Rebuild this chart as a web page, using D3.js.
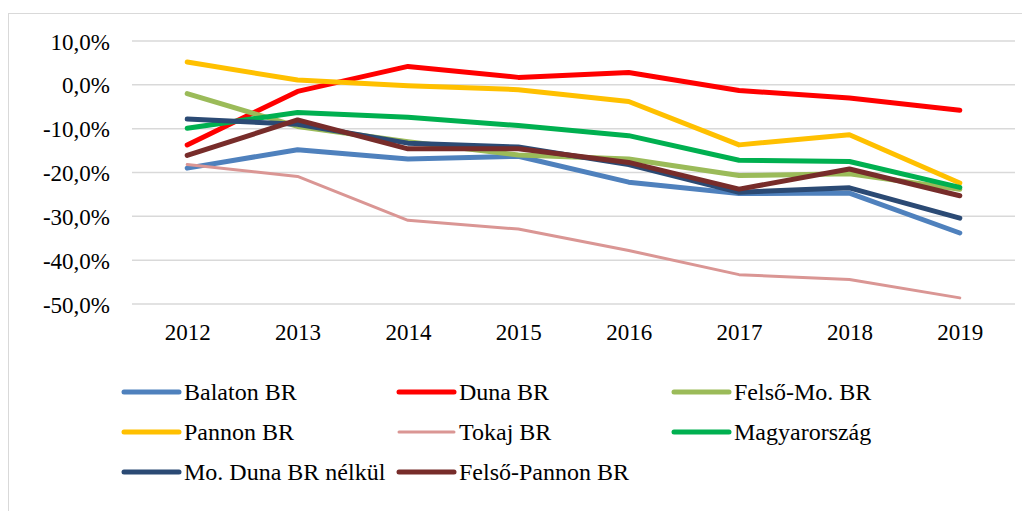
<!DOCTYPE html>
<html>
<head>
<meta charset="utf-8">
<script src="https://cdnjs.cloudflare.com/ajax/libs/d3/7.8.5/d3.min.js"></script>
<style>
  body { margin: 0; background: #fff; }
  svg text { font-family: "Liberation Serif", "Times New Roman", Times, "DejaVu Serif", serif; }
</style>
</head>
<body>
<div id="chart-area"></div>
<script>
// Data (percent)
var years = ["2012", "2013", "2014", "2015", "2016", "2017", "2018", "2019"];
var yTicks = [10, 0, -10, -20, -30, -40, -50];

var balaton     = [-19.0, -14.8, -16.9, -16.3, -22.2, -24.8, -24.7, -33.8];
var duna        = [-13.7,  -1.5,   4.2,   1.7,   2.8,  -1.3,  -3.0,  -5.8];
var felsoMo     = [ -2.0,  -9.5, -13.0, -16.0, -16.9, -20.7, -20.3, -23.8];
var pannon      = [  5.2,   1.1,  -0.2,  -1.1,  -3.8, -13.7, -11.4, -22.4];
var tokaj       = [-18.2, -20.9, -30.9, -32.9, -37.8, -43.3, -44.4, -48.6];
var magyar      = [ -9.9,  -6.3,  -7.4,  -9.3, -11.6, -17.2, -17.5, -23.4];
var moDuna      = [ -7.8,  -9.0, -13.3, -14.2, -18.2, -24.5, -23.5, -30.4];
var felsoPannon = [-16.1,  -8.0, -14.6, -14.6, -17.7, -23.8, -19.2, -25.3];

var series = [
    { name: "Balaton BR",           values: balaton,     color: "#4f81bd", w: 5 },
    { name: "Duna BR",              values: duna,        color: "#ff0000", w: 5 },
    { name: "Felső-Mo. BR",         values: felsoMo,     color: "#9bbb59", w: 5 },
    { name: "Pannon BR",            values: pannon,      color: "#ffc000", w: 5 },
    { name: "Tokaj BR",             values: tokaj,       color: "#da9694", w: 3 },
    { name: "Magyarország",         values: magyar,      color: "#00b050", w: 5 },
    { name: "Mo. Duna BR nélkül",   values: moDuna,      color: "#2b4a74", w: 5 },
    { name: "Felső-Pannon BR",      values: felsoPannon, color: "#772c2a", w: 5 }
];

var W = 1022, H = 511;
var plot = { left: 132, right: 1015, top: 41, bottom: 304 };

var svg = d3.select("#chart-area")
    .append("svg")
        .attr("width", W)
        .attr("height", H);

// outer frame
svg.append("rect")
    .attr("x", 8.5)
    .attr("y", 13.5)
    .attr("width", W + 20)
    .attr("height", H + 20)
    .attr("fill", "none")
    .attr("stroke", "#d9d9d9")
    .attr("stroke-width", 1);

// Scales
var x = d3.scalePoint()
    .domain(years)
    .range([plot.left, plot.right])
    .padding(0.5);
var y = d3.scaleLinear()
    .domain([-50, 10])
    .range([plot.bottom, plot.top]);

// Gridlines
svg.append("g")
    .selectAll("line")
    .data(yTicks)
    .enter().append("line")
        .attr("x1", plot.left)
        .attr("x2", plot.right)
        .attr("y1", function(d){ return y(d); })
        .attr("y2", function(d){ return y(d); })
        .attr("stroke", "#d9d9d9")
        .attr("stroke-width", 1.5);

// Y Axis labels
var yAxisCall = d3.axisLeft(y)
    .tickValues(yTicks)
    .tickSize(0)
    .tickPadding(0)
    .tickFormat(function(d){ return d3.format(".1f")(d).replace(".", ",").replace("−", "-") + "%"; });
var yAxis = svg.append("g")
    .attr("transform", "translate(110,0)")
    .call(yAxisCall)
    .attr("font-family", null);
yAxis.select(".domain").remove();
yAxis.selectAll("text")
    .attr("font-size", "23px")
    .attr("fill", "#000")
    .attr("dy", "8px");

// X Axis labels
var xAxisCall = d3.axisBottom(x)
    .tickSize(0)
    .tickPadding(0);
var xAxis = svg.append("g")
    .attr("transform", "translate(0,340)")
    .call(xAxisCall)
    .attr("font-family", null);
xAxis.select(".domain").remove();
xAxis.selectAll("text")
    .attr("font-size", "23px")
    .attr("fill", "#000")
    .attr("dy", "0");

// Lines
var line = d3.line()
    .x(function(d, i){ return x(years[i]); })
    .y(function(d){ return y(d); });

svg.append("g")
    .selectAll("path")
    .data(series)
    .enter().append("path")
        .attr("d", function(d){ return line(d.values); })
        .attr("fill", "none")
        .attr("stroke", function(d){ return d.color; })
        .attr("stroke-width", function(d){ return d.w; })
        .attr("stroke-linejoin", "round")
        .attr("stroke-linecap", "round");

// Legend
var legend = svg.append("g")
    .attr("transform", "translate(124,392)");

series.forEach(function(s, i){
    var col = i % 3, row = Math.floor(i / 3);
    var legendRow = legend.append("g")
        .attr("transform", "translate(" + (col * 275) + ", " + (row * 40) + ")");

    legendRow.append("line")
        .attr("x1", 0)
        .attr("x2", 55)
        .attr("y1", 0)
        .attr("y2", 0)
        .attr("stroke", s.color)
        .attr("stroke-width", s.w)
        .attr("stroke-linecap", "round");

    legendRow.append("text")
        .attr("x", 60)
        .attr("y", 8)
        .attr("font-size", "24px")
        .attr("fill", "#000")
        .text(s.name);
});
</script>
</body>
</html>
